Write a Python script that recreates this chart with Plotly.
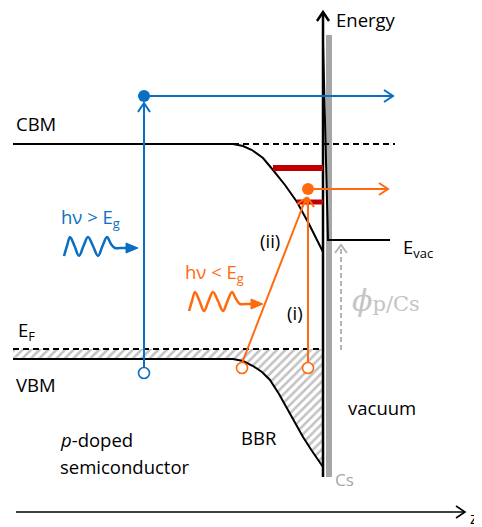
import plotly.graph_objects as go

W, H = 482, 527
OFF = 8  # page body margin of the browser
BLUE = "#0a6fc2"
ORANGE = "#ff6a0e"
RED = "#c00000"
GRAY = "#a6a6a6"
LGRAY = "#b4b4b4"
FONT = "Open Sans"
FS = 18.5

# ---- schematic geometry (pixel units) ----
cbm_flat_x = [13, 233]
cbm_flat_y = [144, 144]
cbm_curve_x = [233, 243, 252, 263, 273, 285, 297, 309, 320, 323]
cbm_curve_y = [144, 146, 150, 158, 170, 185, 202, 224, 246, 252]
cbm_dash_x = [233, 395]
cbm_dash_y = [144, 144]

vbm_x = [13, 233, 243, 253, 262, 270, 279, 287, 295, 303, 312, 320, 323]
vbm_y = [359, 359, 361, 366, 372, 380, 394, 408, 423, 437, 451, 463, 467]
ef_x = [13, 323]
ef_y = [349, 349]

evac_x = [323, 328, 328, 390]
evac_y = [42, 240, 240, 240]

energy_axis_x = [323, 323]
energy_axis_y = [477, 12]
cs_bar_x = [329, 329]
cs_bar_y = [35, 477]
z_axis_x = [16, 465]
z_axis_y = [512, 512]

red_top_x = [273, 323]
red_top_y = [168, 168]
red_bot_x = [297, 323]
red_bot_y = [202, 202]

blue_vert_x = [144, 144]
blue_vert_y = [368, 103]
blue_hor_x = [144, 393]
blue_hor_y = [96, 96]
blue_dot = (144, 96)
blue_hole = (144, 373)

orange_dot = (308, 189)
orange_hor_x = [308, 388]
orange_hor_y = [189, 189]
orange_i_x = [308, 308]
orange_i_y = [363, 198]
orange_ii_x = [242, 306]
orange_ii_y = [363, 198]
orange_holes_x = [242, 308]
orange_holes_y = [368, 368]

phi_arrow_x = [341, 341]
phi_arrow_y = [350, 245]

blue_wave_x = [64, 67, 70, 74.5, 79, 83.5, 88, 93, 98, 102.5, 107, 111, 115, 120, 127]
blue_wave_y = [256, 246, 237, 246, 256, 246, 237, 246, 256, 246, 237, 244, 248, 248, 248]
blue_wave_tip = (138, 248)
orange_wave_x = [189, 192, 195, 199.5, 204, 208.5, 213, 218, 223, 227.5, 232, 236, 240, 245, 252]
orange_wave_y = [311, 301, 292, 301, 311, 301, 292, 301, 311, 301, 292, 299, 304, 304, 304]
orange_wave_tip = (263, 304)

labels = [
    ("Energy", 334, 19, "black", FS),
    ("CBM", 14, 123, "black", FS),
    ("E<sub>F</sub>", 16, 331, "black", FS),
    ("VBM", 14, 384, "black", FS),
    ("hν > E<sub>g</sub>", 59, 218, BLUE, FS),
    ("hν < E<sub>g</sub>", 183, 273, ORANGE, FS),
    ("(ii)", 258, 240, "black", FS),
    ("(i)", 285, 312, "black", FS),
    ("E<sub>vac</sub>", 401, 248, "black", FS),
    ("vacuum", 346, 407, "black", FS),
    ("BBR", 239, 437, "black", FS),
    ("<i>p</i>-doped", 58, 439, "black", FS),
    ("semiconductor", 58, 466, "black", FS),
    ("Cs", 333, 479, GRAY, 17),
    ("z", 468, 518, "black", 16),
]

fig = go.Figure()


def line(x, y, color, width=2, dash=None):
    fig.add_trace(go.Scatter(x=x, y=y, mode="lines", hoverinfo="skip",
                             line=dict(color=color, width=width, dash=dash)))


def chevron(tip, frm, color, width=2, L=9, Wd=6):
    dx, dy = tip[0] - frm[0], tip[1] - frm[1]
    n = (dx * dx + dy * dy) ** 0.5
    ux, uy = dx / n, dy / n
    px, py = -uy, ux
    xs = [tip[0] - L * ux + Wd * px, tip[0], tip[0] - L * ux - Wd * px]
    ys = [tip[1] - L * uy + Wd * py, tip[1], tip[1] - L * uy - Wd * py]
    line(xs, ys, color, width)


def tri(tip, color, L=12, Wd=5):
    fig.add_trace(go.Scatter(x=[tip[0] - L, tip[0], tip[0] - L, tip[0] - L],
                             y=[tip[1] - Wd, tip[1], tip[1] + Wd, tip[1] - Wd],
                             mode="lines", fill="toself", fillcolor=color,
                             line=dict(color=color, width=1), hoverinfo="skip"))


# hatched region between EF and VBM
hx = ef_x + vbm_x[::-1]
hy = ef_y + vbm_y[::-1]
fig.add_trace(go.Scatter(x=hx, y=hy, mode="lines", fill="toself",
                         fillcolor="white", line=dict(width=0), hoverinfo="skip",
                         fillpattern=dict(shape="/", fgcolor="#858585", bgcolor="white",
                                          size=6, solidity=0.42)))

# Cs layer and axes
line(cs_bar_x, cs_bar_y, GRAY, 6)
line(energy_axis_x, energy_axis_y, "black", 2.5)
chevron((energy_axis_x[1], energy_axis_y[1]), (energy_axis_x[0], energy_axis_y[0]), "black", 2.5, 9, 6)
line(z_axis_x, z_axis_y, "black", 1.6)
chevron((z_axis_x[1], z_axis_y[1]), (z_axis_x[0], z_axis_y[0]), "black", 1.6, 9, 6)

# bands
line(cbm_flat_x, cbm_flat_y, "black", 2)
line(cbm_curve_x, cbm_curve_y, "black", 2)
line(cbm_dash_x, cbm_dash_y, "black", 2, "6px,4px")
line(ef_x, ef_y, "black", 2, "6px,4px")
line(vbm_x, vbm_y, "black", 2)
line(evac_x, evac_y, "black", 2)

# surface states
line(red_top_x, red_top_y, RED, 6)
line(red_bot_x, red_bot_y, RED, 5)

# phi arrow
line(phi_arrow_x, phi_arrow_y, LGRAY, 2, "5px,3px")
chevron((phi_arrow_x[1], phi_arrow_y[1]), (phi_arrow_x[0], phi_arrow_y[0]), LGRAY, 2, 8, 6)

# blue process
line(blue_vert_x, blue_vert_y, BLUE, 2)
chevron((blue_vert_x[1], blue_vert_y[1]), (blue_vert_x[0], blue_vert_y[0]), BLUE, 2, 9, 6)
line(blue_hor_x, blue_hor_y, BLUE, 2)
chevron((blue_hor_x[1], blue_hor_y[1]), (blue_hor_x[0], blue_hor_y[0]), BLUE, 2, 9, 6)

# orange process
line(orange_i_x, orange_i_y, ORANGE, 2)
chevron((orange_i_x[1], orange_i_y[1]), (orange_i_x[0], orange_i_y[0]), ORANGE, 2, 9, 6)
line(orange_ii_x, orange_ii_y, ORANGE, 2)
chevron((orange_ii_x[1], orange_ii_y[1]), (orange_ii_x[0], orange_ii_y[0]), ORANGE, 2, 9, 6)
line(orange_hor_x, orange_hor_y, ORANGE, 2)
chevron((orange_hor_x[1], orange_hor_y[1]), (orange_hor_x[0], orange_hor_y[0]), ORANGE, 2, 9, 6)

# waves
fig.add_trace(go.Scatter(x=blue_wave_x, y=blue_wave_y, mode="lines", hoverinfo="skip",
                         line=dict(color=BLUE, width=2.5, shape="spline", smoothing=1.0)))
tri(blue_wave_tip, BLUE)
fig.add_trace(go.Scatter(x=orange_wave_x, y=orange_wave_y, mode="lines", hoverinfo="skip",
                         line=dict(color=ORANGE, width=2.5, shape="spline", smoothing=1.0)))
tri(orange_wave_tip, ORANGE)

# dots and holes
fig.add_trace(go.Scatter(x=[blue_dot[0]], y=[blue_dot[1]], mode="markers", hoverinfo="skip",
                         marker=dict(size=12, color=BLUE, line=dict(width=0))))
fig.add_trace(go.Scatter(x=[blue_hole[0]], y=[blue_hole[1]], mode="markers", hoverinfo="skip",
                         marker=dict(size=11, color="white", line=dict(width=1.6, color=BLUE))))
fig.add_trace(go.Scatter(x=[orange_dot[0]], y=[orange_dot[1]], mode="markers", hoverinfo="skip",
                         marker=dict(size=12, color=ORANGE, line=dict(width=0))))
fig.add_trace(go.Scatter(x=orange_holes_x, y=orange_holes_y, mode="markers", hoverinfo="skip",
                         marker=dict(size=11, color="white", line=dict(width=1.6, color=ORANGE))))

annotations = []
for txt, x, y, col, sz in labels:
    annotations.append(dict(text=txt, x=x, y=y, xref="x", yref="y", showarrow=False,
                            xanchor="left", yanchor="middle",
                            font=dict(family=FONT, size=sz, color=col)))
annotations.append(dict(text="<i>ϕ</i><span style='font-size:21px'>p/Cs</span>", x=350, y=300,
                        xref="x", yref="y", showarrow=False, xanchor="left", yanchor="middle",
                        font=dict(family="DejaVu Serif", size=30, color="#c4c4c4")))

fig.update_layout(
    width=W, height=H, margin=dict(l=0, r=0, t=0, b=0),
    paper_bgcolor="white", plot_bgcolor="white", showlegend=False,
    xaxis=dict(range=[OFF, W + OFF], visible=False, fixedrange=True),
    yaxis=dict(range=[H + OFF, OFF], visible=False, fixedrange=True),
    annotations=annotations,
)
fig.write_html("out.html")
